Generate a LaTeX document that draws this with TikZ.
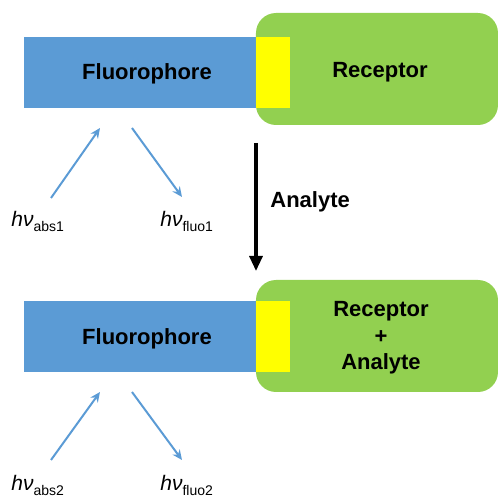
\documentclass[tikz,border=0pt]{standalone}
\usepackage{fontspec}
\setmainfont{Liberation Sans}
\usetikzlibrary{arrows.meta}
\definecolor{fblue}{HTML}{5B9BD5}
\definecolor{rgreen}{HTML}{92D050}
\definecolor{jyellow}{HTML}{FFFF00}
\newcommand{\hnu}[1]{\textit{hν}\raisebox{-2.5pt}{\fontsize{7}{8}\selectfont #1}}
\begin{document}
\begin{tikzpicture}[x=0.5pt,y=-0.5pt,
  fluobox/.style={rectangle,fill=fblue,inner sep=0pt,minimum width=116pt,minimum height=35.5pt},
  recbox/.style={rectangle,fill=rgreen,rounded corners=10pt,inner sep=0pt,minimum width=121pt,minimum height=56pt},
  linkbox/.style={rectangle,fill=jyellow,inner sep=0pt,minimum width=17pt,minimum height=35.5pt},
  boldtxt/.style={font=\fontsize{11}{13.25}\selectfont\bfseries,align=center,inner sep=0pt},
  hnutxt/.style={font=\fontsize{10.5}{12}\selectfont,anchor=base west,inner sep=0pt},
  light/.style={draw=fblue,line width=1pt,-{Stealth[length=5pt,width=4.5pt]}},
  heavy/.style={draw=black,line width=1.6pt,-{Triangle[length=7.5pt,width=6.5pt]}}]
\useasboundingbox (0,0) rectangle (500,498);
% top assembly
\node[fluobox] (f1) at (140,72.5) {};
\node[recbox] (r1) at (377,69) {};
\node[linkbox] (y1) at (273,72.5) {};
\node[boldtxt,anchor=base] (f1t) at (147,80) {Fluorophore};
\node[boldtxt,anchor=base] (r1t) at (380,77) {Receptor};
% top photons
\coordinate (a1s) at (51,198);
\coordinate (a1e) at (100,128);
\coordinate (e1s) at (132,128);
\coordinate (e1e) at (182,197);
\draw[light] (a1s) -- (a1e);
\draw[light] (e1s) -- (e1e);
\node[hnutxt] (l1a) at (11,227) {\hnu{abs1}};
\node[hnutxt] (l1f) at (160,227) {\hnu{fluo1}};
% analyte arrow
\coordinate (ks) at (256,143);
\coordinate (ke) at (256,271);
\draw[heavy] (ks) -- (ke);
\node[boldtxt,anchor=base west] (an) at (270,208) {Analyte};
% bottom assembly
\node[fluobox] (f2) at (140,337) {};
\node[recbox] (r2) at (377,336) {};
\node[linkbox] (y2) at (273,337) {};
\node[boldtxt,anchor=base] (f2t) at (147,345) {Fluorophore};
\node[boldtxt] (r2t) at (381,338) {Receptor\\+\\Analyte};
% bottom photons
\coordinate (a2s) at (51,460);
\coordinate (a2e) at (100,392);
\coordinate (e2s) at (132,392);
\coordinate (e2e) at (182,460);
\draw[light] (a2s) -- (a2e);
\draw[light] (e2s) -- (e2e);
\node[hnutxt] (l2a) at (11,491) {\hnu{abs2}};
\node[hnutxt] (l2f) at (160,491) {\hnu{fluo2}};
\end{tikzpicture}
\end{document}
